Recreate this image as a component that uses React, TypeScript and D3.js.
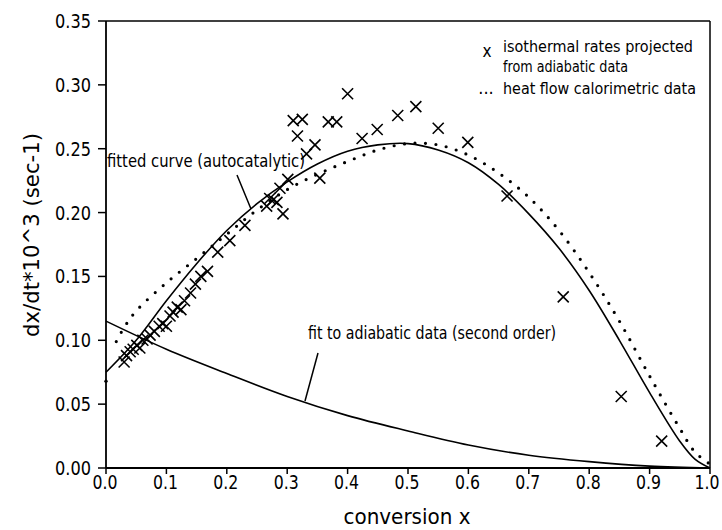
import React from 'react'
import * as d3 from 'd3'

// axis ticks
const xTicks = [0, 0.1, 0.2, 0.3, 0.4, 0.5, 0.6, 0.7, 0.8, 0.9, 1.0]
const yTicks = [0, 0.05, 0.1, 0.15, 0.2, 0.25, 0.3, 0.35]

// isothermal rates projected from adiabatic data (x marks): [conversion, rate]
const isothermalRates = [
  [0.030, 0.083], [0.034, 0.088], [0.040, 0.091], [0.045, 0.093], [0.051, 0.096],
  [0.056, 0.094], [0.061, 0.100], [0.068, 0.101], [0.073, 0.104], [0.080, 0.107],
  [0.088, 0.111], [0.094, 0.113], [0.100, 0.111], [0.106, 0.119], [0.111, 0.122],
  [0.118, 0.126], [0.124, 0.124], [0.130, 0.131], [0.140, 0.137], [0.148, 0.144],
  [0.157, 0.150], [0.168, 0.154], [0.185, 0.169], [0.205, 0.178],
  [0.230, 0.190], [0.266, 0.205], [0.271, 0.211], [0.277, 0.210], [0.283, 0.208],
  [0.288, 0.219], [0.293, 0.199], [0.301, 0.226], [0.332, 0.246], [0.346, 0.253],
  [0.354, 0.227], [0.310, 0.272], [0.325, 0.273], [0.317, 0.260], [0.368, 0.271],
  [0.382, 0.271], [0.400, 0.293], [0.424, 0.258], [0.449, 0.265], [0.483, 0.276],
  [0.513, 0.283], [0.550, 0.266], [0.599, 0.255], [0.664, 0.213], [0.757, 0.134],
  [0.853, 0.056], [0.920, 0.021],
]

// heat flow calorimetric data (dotted), first point stands alone at x=0
const heatFlow = [
  [0.0, 0.068], [0.017, 0.099], [0.03, 0.110], [0.05, 0.123], [0.1, 0.145],
  [0.15, 0.164], [0.2, 0.183], [0.25, 0.202], [0.3, 0.218], [0.35, 0.230],
  [0.4, 0.240], [0.45, 0.249], [0.5, 0.254], [0.55, 0.253], [0.6, 0.245],
  [0.65, 0.231], [0.7, 0.212], [0.75, 0.186], [0.8, 0.153], [0.85, 0.115],
  [0.9, 0.072], [0.95, 0.031], [0.975, 0.0125], [1.0, 0.003],
]

// fitted curve (autocatalytic)
const autocatalyticFit = [
  [0, 0.075], [0.05, 0.100], [0.1, 0.131], [0.15, 0.160], [0.2, 0.186],
  [0.25, 0.207], [0.3, 0.224], [0.35, 0.238], [0.4, 0.248], [0.45, 0.253],
  [0.5, 0.254], [0.55, 0.249], [0.6, 0.239], [0.65, 0.222], [0.7, 0.199],
  [0.75, 0.172], [0.8, 0.139], [0.85, 0.100], [0.9, 0.059], [0.95, 0.021],
  [0.975, 0.007], [1.0, 0],
]

// fit to adiabatic data (second order)
const secondOrderFit = [
  [0, 0.115], [0.1, 0.093], [0.2, 0.074], [0.3, 0.056], [0.4, 0.041],
  [0.5, 0.029], [0.6, 0.018], [0.7, 0.010], [0.8, 0.005], [0.9, 0.0015], [1.0, 0],
]

const FONT = '"DejaVu Sans Condensed", "Liberation Sans Narrow", "DejaVu Sans", sans-serif'

const App = () => {
  const x = d3.scaleLinear().domain([0, 1]).range([106, 710])
  const y = d3.scaleLinear().domain([0, 0.35]).range([468, 21])

  const line = d3.line()
    .x(d => x(d[0]))
    .y(d => y(d[1]))
    .curve(d3.curveCatmullRom.alpha(0.5))

  const cross = (cx, cy, r) =>
    `M${cx - r},${cy - r}L${cx + r},${cy + r}M${cx - r},${cy + r}L${cx + r},${cy - r}`

  return (
    <svg width="722" height="530" style={{position: 'absolute', left: 0, top: 0, background: '#fff'}}
      fontFamily={FONT}>
      {/* frame */}
      <line x1={x(0)} x2={x(1)} y1={y(0.35)} y2={y(0.35)} stroke="#000" strokeWidth="1.5"/>
      <line x1={x(1)} x2={x(1)} y1={y(0.35)} y2={y(0)} stroke="#000" strokeWidth="1.5"/>
      <line x1={x(0)} x2={x(1)} y1={y(0)} y2={y(0)} stroke="#000" strokeWidth="1.8"/>
      <line x1={x(0)} x2={x(0)} y1={y(0.35)} y2={y(0)} stroke="#000" strokeWidth="1.8"/>

      {/* y axis */}
      {yTicks.map((t, i) => (
        <g key={i}>
          <line x1={x(0) - 8} x2={x(0)} y1={y(t)} y2={y(t)} stroke="#000" strokeWidth="1.5"/>
          <text x={x(0) - 15} y={y(t) + 7} textAnchor="end" fontSize="20"
            textLength="36" lengthAdjust="spacingAndGlyphs">{d3.format('.2f')(t)}</text>
        </g>
      ))}
      {/* x axis */}
      {xTicks.map((t, i) => (
        <g key={i}>
          <line x1={x(t)} x2={x(t)} y1={y(0)} y2={y(0) + 6} stroke="#000" strokeWidth="1.5"/>
          <text x={Math.min(x(t) - 1, 707)} y={y(0) + 21} textAnchor="middle" fontSize="20"
            textLength="25" lengthAdjust="spacingAndGlyphs">{d3.format('.1f')(t)}</text>
        </g>
      ))}

      <text x={407} y={524} textAnchor="middle" fontSize="21" textLength="127" lengthAdjust="spacingAndGlyphs">conversion x</text>
      <text transform="translate(39,235) rotate(-90)" textAnchor="middle" fontSize="22"
        textLength="204" lengthAdjust="spacingAndGlyphs">dx/dt*10^3 (sec-1)</text>

      {/* curves */}
      <path d={line(secondOrderFit)} fill="none" stroke="#000" strokeWidth="1.6"/>
      <path d={line(autocatalyticFit)} fill="none" stroke="#000" strokeWidth="1.6"/>
      <path d={line(heatFlow.slice(1))} fill="none" stroke="#000" strokeWidth="3.2"
        strokeDasharray="0 10.5" strokeLinecap="round"/>
      <circle cx={x(heatFlow[0][0])} cy={y(heatFlow[0][1])} r="1.7" fill="#000"/>

      {/* isothermal marks */}
      {isothermalRates.map((d, i) => (
        <path key={i} d={cross(x(d[0]), y(d[1]), 5.5)} stroke="#000" strokeWidth="1.6" fill="none"/>
      ))}

      {/* annotations */}
      <text x={107} y={167} fontSize="18" textLength="198" lengthAdjust="spacingAndGlyphs">fitted curve (autocatalytic)</text>
      <line x1={237} y1={175} x2={251} y2={209} stroke="#000" strokeWidth="1.5"/>
      <text x={308} y={339} fontSize="18" textLength="248" lengthAdjust="spacingAndGlyphs">fit to adiabatic data (second order)</text>
      <line x1={318} y1={353} x2={305} y2={401} stroke="#000" strokeWidth="1.5"/>

      {/* legend */}
      <text x={487} y={57} textAnchor="middle" fontSize="17">x</text>
      <text x={503} y={52} fontSize="16" textLength="190" lengthAdjust="spacingAndGlyphs">isothermal rates projected</text>
      <text x={503} y={72} fontSize="16" textLength="125" lengthAdjust="spacingAndGlyphs">from adiabatic data</text>
      <text x={486} y={94} textAnchor="middle" fontSize="18">...</text>
      <text x={503} y={94} fontSize="16" textLength="193" lengthAdjust="spacingAndGlyphs">heat flow calorimetric data</text>
    </svg>
  )
}

export default App
